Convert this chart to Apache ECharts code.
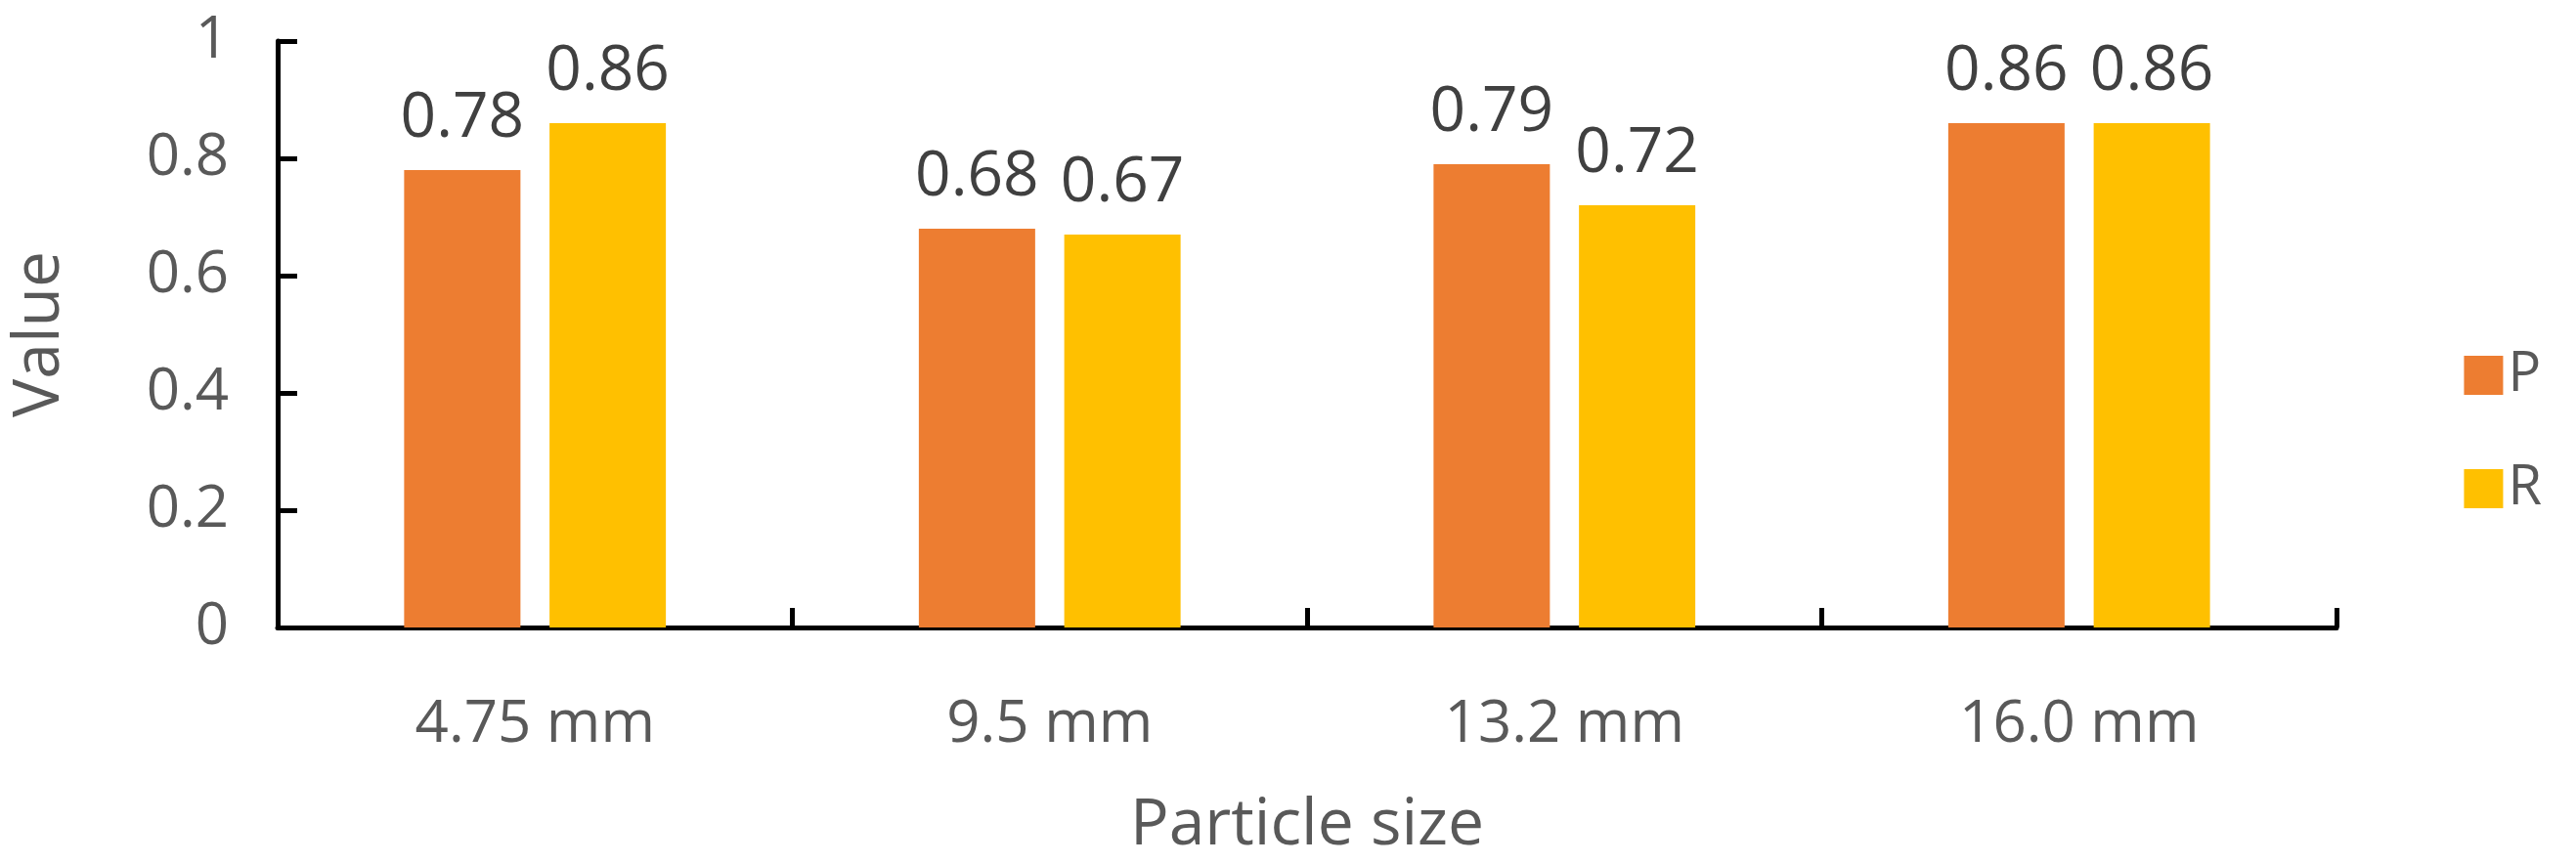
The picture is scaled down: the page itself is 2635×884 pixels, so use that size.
<!DOCTYPE html>
<html><head><meta charset="utf-8">
<script src="https://cdn.jsdelivr.net/npm/echarts@6/dist/echarts.min.js"></script>
<style>html,body{margin:0;padding:0;background:#fff}#c{width:2635px;height:884px}</style>
</head><body><div id="c"></div>
<script>
const categories = ['4.75 mm', '9.5 mm', '13.2 mm', '16.0 mm'];
const seriesP = [0.78, 0.68, 0.79, 0.86];
const seriesR = [0.86, 0.67, 0.72, 0.86];
const yTicks = [0, 0.2, 0.4, 0.6, 0.8, 1];
const font = 'Open Sans';
const chart = echarts.init(document.getElementById('c'));
const lbl = {show: true, position: 'top', distance: 20, color: '#404040', fontSize: 64, fontFamily: font};
chart.setOption({
  animation: false,
  grid: {left: 281, right: 245, top: 42, bottom: 242},
  legend: {
    orient: 'vertical', right: 30, top: 'middle', itemGap: 60, itemWidth: 40, itemHeight: 40,
    icon: 'rect', textStyle: {fontSize: 56, color: '#595959', fontFamily: font},
    data: ['P', 'R']
  },
  xAxis: {
    type: 'category', data: categories,
    name: 'Particle size', nameLocation: 'middle', nameGap: 170,
    nameTextStyle: {fontSize: 66, color: '#595959', fontFamily: font},
    axisLine: {lineStyle: {color: '#000', width: 5}},
    axisTick: {show: true, inside: true, length: 20, lineStyle: {color: '#000', width: 5}},
    axisLabel: {fontSize: 60, color: '#595959', fontFamily: font, margin: 70}
  },
  yAxis: {
    type: 'value', min: 0, max: 1, interval: 0.2,
    name: 'Value', nameLocation: 'middle', nameGap: 210,
    nameTextStyle: {fontSize: 66, color: '#595959', fontFamily: font},
    axisLine: {show: true, lineStyle: {color: '#000', width: 5}},
    axisTick: {show: true, inside: true, length: 20, lineStyle: {color: '#000', width: 5}},
    splitLine: {show: false},
    axisLabel: {fontSize: 60, color: '#595959', fontFamily: font, margin: 50,
      formatter: v => yTicks.includes(+v.toFixed(1)) ? String(+v.toFixed(1)) : ''}
  },
  series: [
    {name: 'P', type: 'bar', data: seriesP, barWidth: 119, barGap: '25%', itemStyle: {color: '#ED7D31'}, label: lbl},
    {name: 'R', type: 'bar', data: seriesR, barWidth: 119, itemStyle: {color: '#FFC000'}, label: lbl}
  ]
});
</script></body></html>
